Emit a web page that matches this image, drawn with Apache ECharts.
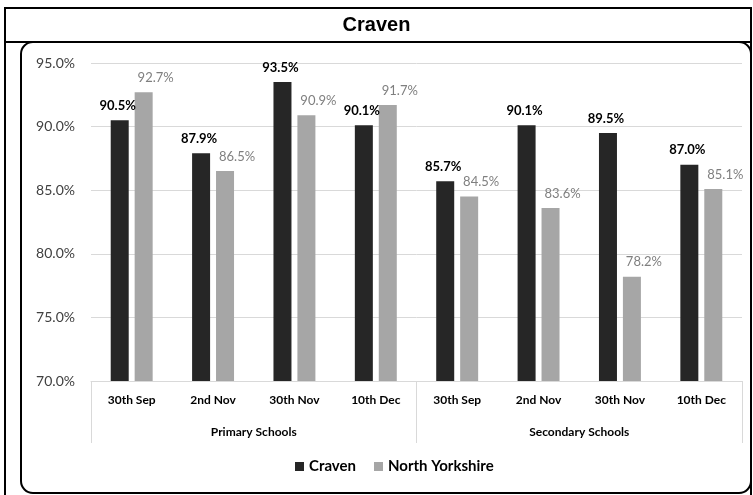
<!DOCTYPE html>
<html>
<head>
<meta charset="utf-8">
<script src="https://cdn.jsdelivr.net/npm/echarts@6/dist/echarts.min.js"></script>
<style>
  html, body { margin: 0; padding: 0; background: #fff; }
  #chart { width: 753px; height: 495px; }
</style>
</head>
<body>
<div id="chart"></div>
<script>
  // dates inside each school group
  const dates = ['30th Sep', '2nd Nov', '30th Nov', '10th Dec', '30th Sep', '2nd Nov', '30th Nov', '10th Dec']
  const groups = ['Primary Schools', 'Secondary Schools']
  const craven = [90.5, 87.9, 93.5, 90.1, 85.7, 90.1, 89.5, 87.0]
  const northYorkshire = [92.7, 86.5, 90.9, 91.7, 84.5, 83.6, 78.2, 85.1]
  const yTicks = { min: 70, max: 95, step: 5 }

  const chart = echarts.init(document.getElementById('chart'))
  chart.setOption({
    animation: false,
    textStyle: { fontFamily: 'Lato, "Open Sans", sans-serif' },
    graphic: [
      // title box + outer frame (bottom runs off the picture)
      { type: 'rect', shape: { x: 5, y: 8, width: 746, height: 34 }, style: { fill: 'none', stroke: '#000', lineWidth: 2 } },
      { type: 'rect', shape: { x: 5, y: 8, width: 746, height: 500 }, style: { fill: 'none', stroke: '#000', lineWidth: 2 } },
      // rounded chart area
      { type: 'rect', shape: { x: 21, y: 42, width: 730, height: 451, r: 12 }, style: { fill: 'none', stroke: '#000', lineWidth: 2 } },
      { type: 'text', left: 'center', top: 15, style: { text: 'Craven', font: 'bold 20px "Liberation Sans", Arial', fill: '#000' } }
    ],
    grid: { left: 91, right: 11, top: 63, bottom: 114 },
    legend: {
      bottom: 16,
      left: 290,
      itemWidth: 9,
      itemHeight: 9,
      itemGap: 18,
      icon: 'rect',
      textStyle: { fontSize: 15, fontWeight: 'bold', color: '#000', fontFamily: 'Lato, sans-serif' },
      data: ['Craven', 'North Yorkshire']
    },
    xAxis: [
      {
        type: 'category',
        data: dates,
        axisLine: { lineStyle: { color: '#d9d9d9' } },
        axisTick: { show: false },
        axisLabel: { color: '#000', fontWeight: 'bold', fontSize: 12, margin: 13 }
      },
      {
        type: 'category',
        data: groups,
        position: 'bottom',
        axisLine: { show: false },
        axisTick: { show: true, length: 62, lineStyle: { color: '#d9d9d9' } },
        axisLabel: { color: '#000', fontWeight: 'bold', fontSize: 12, margin: 45 }
      }
    ],
    yAxis: {
      type: 'value',
      min: yTicks.min,
      max: yTicks.max,
      interval: yTicks.step,
      axisLine: { show: false },
      axisTick: { show: false },
      splitLine: { lineStyle: { color: '#d9d9d9' } },
      axisLabel: { color: '#404040', fontSize: 14, margin: 16, formatter: v => v.toFixed(1) + '%' }
    },
    series: [
      {
        name: 'Craven',
        type: 'bar',
        data: craven,
        barWidth: 18,
        barGap: '33%',
        itemStyle: { color: '#262626' },
        label: {
          show: true, position: 'top', distance: 8, offset: [-2, 0],
          color: '#000', fontWeight: 'bold', fontSize: 13,
          formatter: p => p.value.toFixed(1) + '%'
        }
      },
      {
        name: 'North Yorkshire',
        type: 'bar',
        data: northYorkshire,
        barWidth: 18,
        itemStyle: { color: '#a6a6a6' },
        label: {
          show: true, position: 'top', distance: 8, offset: [12, 0],
          color: '#7f7f7f', fontSize: 13,
          formatter: p => p.value.toFixed(1) + '%'
        }
      }
    ]
  })
</script>
</body>
</html>
